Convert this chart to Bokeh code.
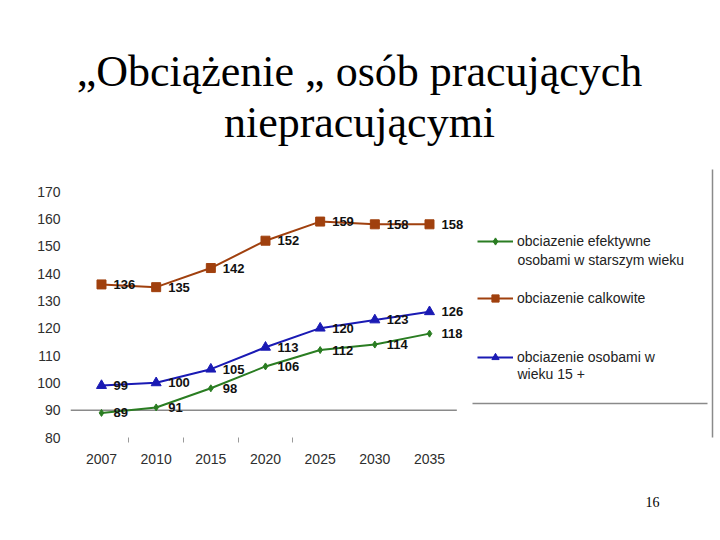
from bokeh.plotting import figure
from bokeh.models import (ColumnDataSource, Label, Legend, LegendItem, Arrow,
                          FixedTicker, LabelSet, Title)
from bokeh.core.properties import value
from bokeh.embed import file_html
from bokeh.resources import INLINE

years = ["2007", "2010", "2015", "2020", "2025", "2030", "2035"]
efektywne = [89, 91, 98, 106, 112, 114, 118]
calkowite = [136, 135, 142, 152, 159, 158, 158]
wiek15 = [99, 100, 105, 113, 120, 123, 126]

title_lines = ["„Obciążenie „ osób pracujących", "niepracującymi"]
legend_first = ["obciazenie efektywne", "obciazenie calkowite", "obciazenie osobami w"]
legend_second = ["osobami w starszym wieku", "", "wieku 15 +"]
y_ticks = [80, 90, 100, 110, 120, 130, 140, 150, 160, 170]
page_number = "16"

SANS = "Liberation Sans"
SERIF = "Liberation Serif"
GREEN = "#2a7d22"
BROWN = "#a0400e"
BLUE = "#1a1ab4"
GRAY = "#8a8a8a"

xs = list(range(len(years)))
# frame spans the whole slide above the year labels; ranges chosen so the
# chart area sits where it does on the slide
XMIN, XMAX = -0.567, 11.25
YMIN, YMAX = 80, 239.88

p = figure(width=716, height=536, output_backend="svg", toolbar_location=None,
           x_range=(XMIN, XMAX), y_range=(YMIN, YMAX),
           min_border_left=70, min_border_right=0, min_border_top=0, min_border_bottom=99)
p.title = None
p.outline_line_color = None
p.xgrid.visible = False
p.ygrid.visible = False

p.yaxis.ticker = FixedTicker(ticks=y_ticks)
p.yaxis.axis_line_color = None
p.yaxis.major_tick_line_color = None
p.yaxis.minor_tick_line_color = None
p.yaxis.major_tick_out = 0
p.yaxis.major_tick_in = 0
p.yaxis.major_label_standoff = 10
p.yaxis.major_label_text_font = SANS
p.yaxis.major_label_text_font_size = "14px"
p.yaxis.major_label_text_color = "#2e2e2e"

p.xaxis.ticker = FixedTicker(ticks=xs, minor_ticks=[0.5, 1.5, 2.5, 3.5])
p.xaxis.major_label_overrides = {i: y for i, y in enumerate(years)}
p.xaxis.axis_line_color = None
p.xaxis.major_tick_line_color = None
p.xaxis.major_tick_out = 0
p.xaxis.major_tick_in = 0
p.xaxis.minor_tick_in = 0
p.xaxis.minor_tick_out = 5
p.xaxis.minor_tick_line_color = "#9a9a9a"
p.xaxis.major_label_standoff = 11
p.xaxis.major_label_text_font = SANS
p.xaxis.major_label_text_font_size = "14px"
p.xaxis.major_label_text_color = "#2e2e2e"

# horizontal rule at 90 (underneath the series)
p.add_layout(Arrow(end=None, x_start=XMIN, y_start=90, x_end=6.5, y_end=90,
                   start_units="data", end_units="data", line_color=GRAY, line_width=1.5,
                   level="underlay"))

src = ColumnDataSource(dict(x=xs, efektywne=efektywne, calkowite=calkowite, wiek15=wiek15,
                            t_ef=[str(v) for v in efektywne],
                            t_ca=[str(v) for v in calkowite],
                            t_wi=[str(v) for v in wiek15]))

styles = [("efektywne", "t_ef", GREEN, "diamond", 7),
          ("calkowite", "t_ca", BROWN, "square", 9),
          ("wiek15", "t_wi", BLUE, "triangle", 10)]

renderers = []
for col, tcol, colr, mk, sz in styles:
    r1 = p.line("x", col, source=src, line_color=colr, line_width=2)
    r2 = p.scatter("x", col, source=src, marker=mk, size=sz, fill_color=colr, line_color=colr)
    renderers.append([r1, r2])
for col, tcol, colr, mk, sz in styles:
    p.add_layout(LabelSet(x="x", y=col, text=tcol, source=src, x_offset=12, y_offset=0,
                          text_font=value(SANS), text_font_size="13px", text_font_style="bold",
                          text_color="#111111", text_baseline="middle"))

# legend (screen offsets from the frame's lower-left corner)
legend_bottoms = [187, 130, 71]
second_y = [178, None, 64]
for rs, lab, lab2, yb, y2 in zip(renderers, legend_first, legend_second, legend_bottoms, second_y):
    p.add_layout(Legend(items=[LegendItem(label=lab, renderers=rs)],
                        location=(407, yb), glyph_width=36, glyph_height=18, label_height=18,
                        label_standoff=4, padding=0, spacing=0, margin=0,
                        border_line_color=None, background_fill_alpha=0,
                        label_text_font=SANS, label_text_font_size="14px",
                        label_text_color="#222222"))
    if lab2:
        p.add_layout(Label(x=447, y=y2, x_units="screen", y_units="screen", text=lab2,
                           text_align="left", text_baseline="middle", text_font=SANS,
                           text_font_size="14px", text_color="#222222"))

# slide frame pieces
p.add_layout(Arrow(end=None, x_start=402, y_start=34, x_end=637, y_end=34,
                   start_units="screen", end_units="screen", line_color=GRAY, line_width=1.5))
p.add_layout(Arrow(end=None, x_start=642, y_start=268, x_end=642, y_end=-48,
                   start_units="screen", end_units="screen", line_color=GRAY, line_width=1.5))

# slide title
p.add_layout(Label(x=289, y=366, x_units="screen", y_units="screen", text=title_lines[0],
                   text_align="center", text_baseline="alphabetic", text_font=SERIF,
                   text_font_size="44px", text_color="#000000"))
p.add_layout(Label(x=289, y=315, x_units="screen", y_units="screen", text=title_lines[1],
                   text_align="center", text_baseline="alphabetic", text_font=SERIF,
                   text_font_size="44px", text_color="#000000"))

# page number below the axis
p.add_layout(Title(text=page_number, align="left", offset=575, standoff=57,
                   text_font=SERIF, text_font_size="14px", text_font_style="normal",
                   text_color="#000000"), "below")

open("out.html", "w").write(file_html(p, INLINE))
